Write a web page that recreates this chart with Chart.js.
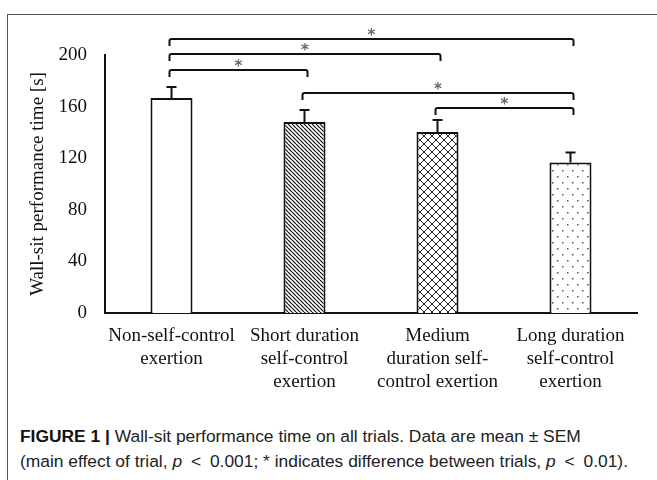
<!DOCTYPE html>
<html>
<head>
<meta charset="utf-8">
<script src="https://cdn.jsdelivr.net/npm/chart.js@4"></script>
<style>
  html, body { margin: 0; padding: 0; background: #fff; overflow: hidden; }
  body { width: 657px; height: 480px; position: relative; }
  #frame { position: absolute; left: 7px; top: 14px; width: 700px; height: 500px;
           border-left: 1.5px solid #555; border-top: 1.5px solid #555; }
  #wrap { position: absolute; left: 0; top: 0; width: 657px; height: 410px; }
  #caption { position: absolute; left: 20px; top: 424px; width: 640px;
             font-family: "Liberation Sans", Arial, sans-serif; font-size: 17.4px;
             line-height: 25px; color: #222; white-space: nowrap; }
  #caption b { color: #111; }
  #caption .op { margin: 0 4px; }
</style>
</head>
<body>
<div id="frame"></div>
<div id="wrap"><canvas id="wallsit"></canvas></div>
<div id="caption">
  <b>FIGURE 1 |</b> Wall-sit performance time on all trials. Data are mean ± SEM<br>
  (main effect of trial, <i>p</i> <span class="op">&lt;</span> 0.001; * indicates difference between trials, <i>p</i> <span class="op">&lt;</span> 0.01).
</div>
<script>
// conditions on the x axis (multi-line labels)
const categories = [
  ['Non-self-control', 'exertion'],
  ['Short duration', 'self-control', 'exertion'],
  ['Medium', 'duration self-', 'control exertion'],
  ['Long duration', 'self-control', 'exertion']
];
// mean wall-sit time [s] and SEM
const means = [166.7, 148.1, 140.3, 116.7];
const sems = [8.5, 9.3, 9.3, 7.7];
const yTicks = [0, 40, 80, 120, 160, 200];
// significant pairwise differences (bar index pairs)
const comparisons = [[0, 3], [0, 2], [0, 1], [1, 3], [2, 3]];
// height of each bracket, in axis units
const bracketLevels = [212.4, 200.8, 188.4, 170.5, 158.9];

function makePattern(w, h, draw) {
  const c = document.createElement('canvas');
  c.width = w; c.height = h;
  const ctx = c.getContext('2d');
  ctx.fillStyle = '#fff';
  ctx.fillRect(0, 0, w, h);
  draw(ctx);
  return document.createElement('canvas').getContext('2d').createPattern(c, 'repeat');
}

const plainFill = '#ffffff';
const hatchFill = makePattern(4, 4, ctx => {
  ctx.strokeStyle = '#111';
  ctx.lineWidth = 1.2;
  for (const o of [-4, 0, 4]) {
    ctx.beginPath();
    ctx.moveTo(o, 0);
    ctx.lineTo(o + 4, 4);
    ctx.stroke();
  }
});
const crossFill = makePattern(8, 8, ctx => {
  ctx.strokeStyle = '#222';
  ctx.lineWidth = 1;
  ctx.beginPath();
  ctx.moveTo(0, 0); ctx.lineTo(8, 8);
  ctx.moveTo(8, 0); ctx.lineTo(0, 8);
  ctx.stroke();
});
const dotFill = makePattern(10, 12, ctx => {
  ctx.fillStyle = '#555';
  ctx.fillRect(2, 2, 1.5, 1.5);
  ctx.fillRect(7, 8, 1.5, 1.5);
});

const serif = '"Liberation Serif", "Times New Roman", serif';

const annotations = {
  id: 'annotations',
  afterDatasetsDraw(chart) {
    const ctx = chart.ctx;
    const x = chart.scales.x;
    const y = chart.scales.y;
    ctx.save();
    ctx.strokeStyle = '#111';
    ctx.lineWidth = 2;
    // error bars (upper half only)
    means.forEach((m, i) => {
      const cx = x.getPixelForValue(i);
      const top = y.getPixelForValue(m + sems[i]);
      ctx.beginPath();
      ctx.moveTo(cx, y.getPixelForValue(m));
      ctx.lineTo(cx, top);
      ctx.moveTo(cx - 5, top);
      ctx.lineTo(cx + 5, top);
      ctx.stroke();
    });
    // significance brackets
    comparisons.forEach(([a, b], k) => {
      const x1 = x.getPixelForValue(a) - 2;
      const x2 = x.getPixelForValue(b) + 3;
      const ly = y.getPixelForValue(bracketLevels[k]);
      ctx.beginPath();
      ctx.moveTo(x1, ly + 7);
      ctx.lineTo(x1, ly + 2);
      ctx.quadraticCurveTo(x1, ly, x1 + 2, ly);
      ctx.lineTo(x2 - 2, ly);
      ctx.quadraticCurveTo(x2, ly, x2, ly + 2);
      ctx.lineTo(x2, ly + 7);
      ctx.stroke();
      ctx.fillStyle = '#666';
      ctx.font = 'bold 15px "DejaVu Sans", sans-serif';
      ctx.textAlign = 'center';
      ctx.textBaseline = 'middle';
      ctx.fillText('*', (x1 + x2) / 2, ly - 3);
    });
    ctx.restore();
  }
};

new Chart(document.getElementById('wallsit'), {
  type: 'bar',
  data: {
    labels: categories,
    datasets: [{
      data: means,
      backgroundColor: [plainFill, hatchFill, crossFill, dotFill],
      borderColor: '#111',
      borderWidth: 2,
      borderSkipped: 'bottom',
      categoryPercentage: 1,
      barPercentage: 0.316
    }]
  },
  options: {
    responsive: true,
    maintainAspectRatio: false,
    animation: false,
    layout: { padding: { left: 23, top: 55, right: 20, bottom: 0 } },
    plugins: {
      legend: { display: false },
      tooltip: { enabled: false }
    },
    scales: {
      x: {
        grid: { display: false, drawTicks: false },
        border: { color: '#111', width: 2 },
        ticks: {
          color: '#111',
          padding: 12,
          maxRotation: 0,
          autoSkip: false,
          font: { family: serif, size: 19, lineHeight: 1.2 }
        },
        afterFit(scale) { scale.height = 97; }
      },
      y: {
        min: 0,
        max: 200,
        afterBuildTicks(scale) { scale.ticks = yTicks.map(v => ({ value: v })); },
        grid: { display: false, drawTicks: false },
        border: { color: '#111', width: 2 },
        ticks: {
          color: '#111',
          padding: 18,
          font: { family: serif, size: 19 }
        },
        title: {
          display: true,
          text: 'Wall-sit performance time [s]',
          color: '#111',
          padding: 4,
          font: { family: serif, size: 19 }
        },
        afterFit(scale) { scale.width = 82; }
      }
    }
  },
  plugins: [annotations]
});
</script>
</body>
</html>
